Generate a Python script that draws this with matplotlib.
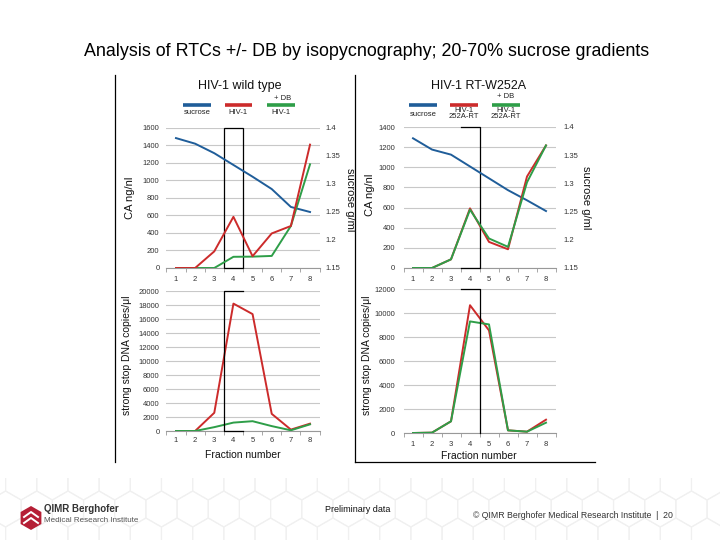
import numpy as np
import matplotlib
matplotlib.use("Agg")
import matplotlib.pyplot as plt
from matplotlib.patches import RegularPolygon, Rectangle

plt.rcParams['font.family'] = ['Liberation Sans', 'DejaVu Sans']

fractions = [1, 2, 3, 4, 5, 6, 7, 8]

# HIV-1 wild type
wt_sucrose = [1.382, 1.372, 1.355, 1.334, 1.313, 1.291, 1.259, 1.250]
wt_ca_hiv = [0, 0, 190, 585, 135, 395, 480, 1410]
wt_ca_db = [0, 0, 0, 128, 130, 138, 480, 1185]
wt_ss_hiv = [0, 0, 2600, 18200, 16700, 2450, 200, 1050]
wt_ss_db = [0, 0, 550, 1200, 1400, 700, 100, 950]

# HIV-1 RT-W252A
mt_sucrose = [1.380, 1.360, 1.351, 1.330, 1.309, 1.288, 1.270, 1.251]
mt_ca_hiv = [0, 0, 86, 592, 259, 186, 908, 1217]
mt_ca_db = [0, 0, 86, 579, 293, 210, 851, 1217]
mt_ss_hiv = [0, 30, 975, 10650, 8550, 220, 110, 1110]
mt_ss_db = [0, 30, 975, 9300, 9050, 220, 110, 860]

BLUE = '#1f5d99'
RED = '#cc2b2b'
GREEN = '#2e9e48'
GRID = '#c8c8c8'

W, H = 720, 540
fig = plt.figure(figsize=(7.2, 5.4), dpi=100)

# background overlay in pixel coordinates
bg = fig.add_axes([0, 0, 1, 1], zorder=0)
bg.set_xlim(0, W)
bg.set_ylim(H, 0)
bg.axis('off')

# hexagon pattern in footer
r = 18
for row in range(4):
    yc = 482 + row * r * 1.5
    off = (row % 2) * r * np.sqrt(3) / 2
    for col in range(26):
        xc = col * r * np.sqrt(3) + off - 10
        bg.add_patch(RegularPolygon((xc, yc), 6, radius=r, orientation=0,
                                    fill=False, ec='#f0f0f0', lw=0.8))
bg.add_patch(Rectangle((0, 0), W, 478, fc='white', ec='none', zorder=1))

# panel frames
bg.plot([115, 115], [75, 462], color='black', lw=0.9, zorder=2)
bg.plot([355, 355], [75, 462], color='black', lw=0.9, zorder=2)
bg.plot([355, 595], [462, 462], color='black', lw=0.9, zorder=2)


def ax_at(x0, x1, ytop, ybot):
    return fig.add_axes([x0 / W, 1 - ybot / H, (x1 - x0) / W, (ybot - ytop) / H], zorder=3)


def style(ax, ymax, step, xpad, bottom_pad):
    ax.set_xlim(0.5, 8.5)
    ax.set_ylim(0, ymax)
    ax.set_yticks(np.arange(0, ymax + 1, step))
    ax.set_xticks(fractions)
    ax.set_xticks(np.arange(0.5, 9, 1), minor=True)
    ax.tick_params(axis='x', which='major', length=0, labelsize=5.5, pad=bottom_pad, colors='#333333')
    ax.tick_params(axis='x', which='minor', length=3, color='#999999', direction='out')
    ax.tick_params(axis='y', length=0, labelsize=5.5, pad=xpad, colors='#333333')
    for s in ['left', 'right', 'top']:
        ax.spines[s].set_visible(False)
    ax.spines['bottom'].set_color('#999999')
    ax.spines['bottom'].set_linewidth(0.8)
    ax.grid(axis='y', color=GRID, lw=0.8)
    ax.set_axisbelow(True)
    ax.patch.set_alpha(0)


def sucrose_axis(ax, data, pad):
    tw = ax.twinx()
    tw.set_ylim(1.15, 1.4)
    tw.set_yticks([1.15, 1.2, 1.25, 1.3, 1.35, 1.4])
    tw.set_yticklabels(['1.15', '1.2', '1.25', '1.3', '1.35', '1.4'])
    tw.tick_params(axis='y', length=0, labelsize=5.5, pad=pad, colors='#333333')
    for s in tw.spines.values():
        s.set_visible(False)
    tw.plot(fractions, data, color=BLUE, lw=1.4, zorder=2)
    return tw


# ---- top left
ax1 = ax_at(166.4, 319.6, 128, 268)
style(ax1, 1600, 200, 5, 6)
tw1 = sucrose_axis(ax1, wt_sucrose, 4)
tw1.plot(fractions, wt_ca_db, color=GREEN, lw=1.4, transform=ax1.transData, zorder=3)
tw1.plot(fractions, wt_ca_hiv, color=RED, lw=1.4, transform=ax1.transData, zorder=4)
ax1.add_patch(Rectangle((3.5, 0), 1.0, 1600, fill=False, ec='black', lw=0.9, zorder=5, clip_on=False))

# ---- bottom left
ax2 = ax_at(166.4, 319.6, 291, 431)
style(ax2, 20000, 2000, 5, 4)
ax2.plot(fractions, wt_ss_hiv, color=RED, lw=1.4, zorder=3)
ax2.plot(fractions, wt_ss_db, color=GREEN, lw=1.4, zorder=4)
ax2.plot([4.5, 3.5, 3.5, 4.5], [20000, 20000, 0, 0], color='black', lw=0.9, zorder=5, clip_on=False)

# ---- top right
ax3 = ax_at(403.5, 555.5, 127, 268)
style(ax3, 1400, 200, 6, 6)
tw3 = sucrose_axis(ax3, mt_sucrose, 6)
tw3.plot(fractions, mt_ca_hiv, color=RED, lw=1.4, transform=ax3.transData, zorder=3)
tw3.plot(fractions, mt_ca_db, color=GREEN, lw=1.4, transform=ax3.transData, zorder=4)
ax3.plot([3.5, 4.5, 4.5, 3.5], [1400, 1400, 0, 0], color='black', lw=0.9, zorder=5, clip_on=False)

# ---- bottom right
ax4 = ax_at(403.5, 555.5, 289, 433)
style(ax4, 12000, 2000, 6, 6)
ax4.plot(fractions, mt_ss_hiv, color=RED, lw=1.4, zorder=3)
ax4.plot(fractions, mt_ss_db, color=GREEN, lw=1.4, zorder=4)
ax4.plot([3.5, 4.5, 4.5], [12000, 12000, 0], color='black', lw=0.9, zorder=5, clip_on=False)


def t(x, y, s, **kw):
    bg.text(x, y, s, zorder=6, **kw)


# titles
t(367, 52, 'Analysis of RTCs +/- DB by isopycnography; 20-70% sucrose gradients',
  ha='center', va='center', fontsize=12.9, color='black')
t(240, 86, 'HIV-1 wild type', ha='center', va='center', fontsize=9, color='#111111')
t(479, 86, 'HIV-1 RT-W252A', ha='center', va='center', fontsize=9, color='#111111')

# legends
for (x0, x1, c) in [(183, 211, BLUE), (225, 252, RED), (267, 295, GREEN),
                    (409, 437, BLUE), (450, 478, RED), (492, 520, GREEN)]:
    bg.plot([x0, x1], [104.5, 104.5], color=c, lw=2.6, solid_capstyle='butt', zorder=6)
lk = dict(ha='center', va='center', fontsize=5.5, color='#222222')
t(197, 113, 'sucrose', **lk)
t(238, 113, 'HIV-1', **lk)
t(281, 113, 'HIV-1', **lk)
t(283, 99, '+ DB', **lk)
t(423, 114, 'sucrose', **lk)
t(464, 113.5, 'HIV-1\n252A-RT', linespacing=1.0, **lk)
t(506, 97, '+ DB', **lk)
t(506, 113.5, 'HIV-1\n252A-RT', linespacing=1.0, **lk)

# axis labels
ak = dict(ha='center', va='center', fontsize=8, color='#111111')
t(130, 198, 'CA ng/nl', rotation=90, **ak)
t(350, 200, 'sucrose g/ml', rotation=270, **ak)
t(370, 195, 'CA ng/nl', rotation=90, **ak)
t(586, 198, 'sucrose g/ml', rotation=270, **ak)
t(127, 355, 'strong stop DNA copies/\u03bcl', rotation=90, ha='center', va='center', fontsize=7.5, color='#111111')
t(367, 355, 'strong stop DNA copies/\u03bcl', rotation=90, ha='center', va='center', fontsize=7.5, color='#111111')
t(243, 455, 'Fraction number', ha='center', va='center', fontsize=7.5, color='#111111')
t(479, 456, 'Fraction number', ha='center', va='center', fontsize=7.5, color='#111111')

# footer
t(358, 510, 'Preliminary data', ha='center', va='center', fontsize=6.5, color='#111111')
t(573, 515, '\u00a9 QIMR Berghofer Medical Research Institute  |  20', ha='center', va='center',
  fontsize=6.3, color='#333333')

# logo
logo = RegularPolygon((31, 518), 6, radius=12, orientation=0, fc='#b51f35', ec='none', zorder=6)
bg.add_patch(logo)
for dy in [0, 6]:
    bg.plot([24, 31, 38], [517 + dy, 512 + dy, 517 + dy], color='white', lw=1.4, zorder=7)
t(44, 509, 'QIMR Berghofer', ha='left', va='center', fontsize=7, fontweight='bold', color='#333333')
t(44, 520, 'Medical Research Institute', ha='left', va='center', fontsize=5.8, color='#555555')

fig.savefig('out.png', dpi=100)
